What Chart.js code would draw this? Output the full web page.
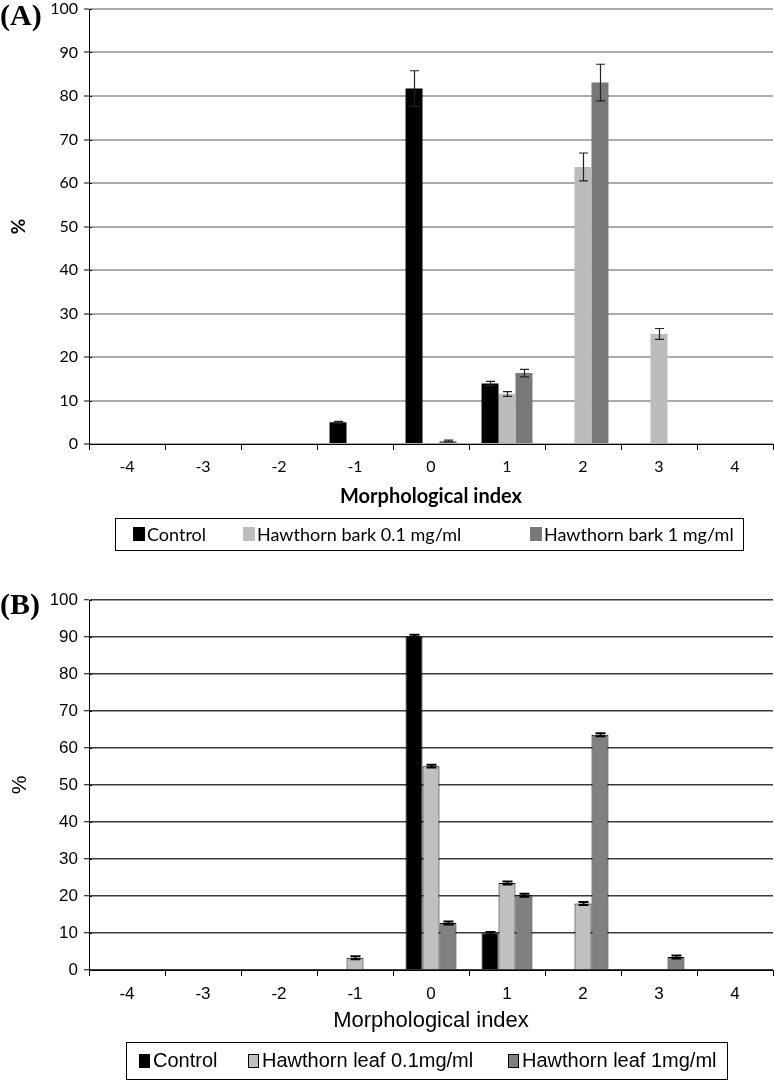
<!DOCTYPE html>
<html>
<head>
<meta charset="utf-8">
<script src="https://cdn.jsdelivr.net/npm/chart.js@4.4.0/dist/chart.umd.min.js"></script>
<style>
  body { margin: 0; background: #fff; width: 774px; height: 1080px; overflow: hidden; position: relative; }
  .panel { position: absolute; left: 0; width: 774px; }
  #wrapA { top: 0; height: 556px; }
  #wrapB { top: 556px; height: 524px; }
  .tag { position: absolute; left: 0; font: bold 30px "Liberation Serif", "Times New Roman", serif; color: #000; line-height: 30px; }
</style>
</head>
<body>
<div class="panel" id="wrapA"><canvas id="chartA" width="774" height="556"></canvas></div>
<div class="panel" id="wrapB"><canvas id="chartB" width="774" height="524"></canvas></div>
<div class="tag" style="top:0px">(A)</div>
<div class="tag" style="top:589px">(B)</div>
<script>
// morphological index categories (shared by both panels)
const morphIndex = ['-4', '-3', '-2', '-1', '0', '1', '2', '3', '4'];

// panel A - hawthorn bark
const barkLabels = ['Control', 'Hawthorn bark 0.1 mg/ml', 'Hawthorn bark 1 mg/ml'];
const barkControl    = [null, null, null, 5.0, 81.7, 13.9, null, null, null];
const barkControlErr = [0, 0, 0, 0.2, 4.1, 0.5, 0, 0, 0];
const bark01         = [null, null, null, null, null, 11.5, 63.7, 25.3, null];
const bark01Err      = [0, 0, 0, 0, 0, 0.55, 3.2, 1.25, 0];
const bark1          = [null, null, null, null, 0.7, 16.3, 83.1, null, null];
const bark1Err       = [0, 0, 0, 0, 0.2, 0.85, 4.2, 0, 0];

// panel B - hawthorn leaf
const leafLabels = ['Control', 'Hawthorn leaf 0.1mg/ml', 'Hawthorn leaf 1mg/ml'];
const leafControl    = [null, null, null, null, 90.2, 9.9, null, null, null];
const leafControlErr = [0, 0, 0, 0, 0.4, 0.4, 0, 0, 0];
const leaf01         = [null, null, null, 3.3, 55.1, 23.5, 18.0, null, null];
const leaf01Err      = [0, 0, 0, 0.4, 0.4, 0.4, 0.4, 0, 0];
const leaf1          = [null, null, null, null, 12.7, 20.2, 63.6, 3.5, null];
const leaf1Err       = [0, 0, 0, 0, 0.4, 0.4, 0.4, 0.4, 0];

const yTicks = [0, 10, 20, 30, 40, 50, 60, 70, 80, 90, 100];

// draws +/- error whiskers on top of each bar
const errorBars = {
  id: 'errorBars',
  afterDatasetsDraw(chart, args, opts) {
    const ctx = chart.ctx;
    const y = chart.scales.y;
    ctx.save();
    ctx.strokeStyle = opts.color;
    ctx.lineWidth = opts.width;
    chart.data.datasets.forEach((ds, di) => {
      const meta = chart.getDatasetMeta(di);
      meta.data.forEach((bar, i) => {
        const v = ds.data[i];
        const e = ds.errors[i];
        if (v == null || !e) return;
        const top = y.getPixelForValue(v + e);
        const bot = y.getPixelForValue(Math.max(v - e, 0));
        const x = Math.round(bar.x) + 0.5;
        const c = opts.cap / 2;
        ctx.beginPath();
        ctx.moveTo(x, top); ctx.lineTo(x, bot);
        ctx.moveTo(x - c, top); ctx.lineTo(x + c, top);
        ctx.moveTo(x - c, bot); ctx.lineTo(x + c, bot);
        ctx.stroke();
      });
    });
    ctx.restore();
  }
};

// y ticks cross the axis line a little on the right side too
const crossTicks = {
  id: 'crossTicks',
  afterDraw(chart) {
    const ctx = chart.ctx;
    const y = chart.scales.y;
    const x0 = chart.chartArea.left;
    ctx.save();
    ctx.strokeStyle = '#000';
    ctx.lineWidth = 1;
    ctx.beginPath();
    y.ticks.forEach(t => {
      const py = Math.round(y.getPixelForValue(t.value)) + 0.5;
      ctx.moveTo(x0, py); ctx.lineTo(x0 + 3, py);
    });
    ctx.stroke();
    ctx.restore();
  }
};

// legend inside a framed box, like the excel one
const boxedLegend = {
  id: 'boxedLegend',
  afterDraw(chart, args, o) {
    const ctx = chart.ctx;
    ctx.save();
    ctx.strokeStyle = '#000';
    ctx.lineWidth = 1;
    ctx.strokeRect(o.left + 0.5, o.top + 0.5, o.right - o.left, o.bottom - o.top);
    const cy = (o.top + o.bottom) / 2;
    ctx.font = o.font;
    ctx.textBaseline = 'middle';
    ctx.textAlign = 'left';
    chart.data.datasets.forEach((ds, i) => {
      const x = o.items[i];
      ctx.fillStyle = ds.backgroundColor;
      ctx.fillRect(x, Math.round(cy - o.boxH / 2), o.boxW, o.boxH);
      if (o.boxBorder) {
        ctx.strokeRect(x + 0.5, Math.round(cy - o.boxH / 2) + 0.5, o.boxW - 1, o.boxH - 1);
      }
      ctx.fillStyle = '#000';
      ctx.fillText(ds.label, x + o.boxW + o.textGap, cy + 1);
    });
    ctx.restore();
  }
};

function barSet(label, data, errors, color, border) {
  return {
    label: label,
    data: data,
    errors: errors,
    backgroundColor: color,
    borderColor: '#000',
    borderWidth: border,
    borderSkipped: 'bottom',
    categoryPercentage: 0.67,
    barPercentage: 1.0
  };
}

// Panel A
new Chart(document.getElementById('chartA'), {
  type: 'bar',
  data: {
    labels: morphIndex,
    datasets: [
      barSet(barkLabels[0], barkControl, barkControlErr, '#000000', 0),
      barSet(barkLabels[1], bark01, bark01Err, '#bcbcbc', 0),
      barSet(barkLabels[2], bark1, bark1Err, '#787878', 0)
    ]
  },
  options: {
    responsive: false,
    animation: false,
    layout: { padding: { top: 9, right: 1, bottom: 47, left: 0 } },
    scales: {
      x: {
        ticks: { color: '#000', font: { family: 'Lato', size: 16 }, padding: 7 },
        grid: { drawOnChartArea: false, color: '#000', tickLength: 6 },
        border: { color: '#000' },
        title: { display: true, text: 'Morphological index', color: '#000',
                 font: { family: 'Lato', size: 20, weight: 'bold' }, padding: 0 },
        afterFit(s) { s.height = 65; }
      },
      y: {
        min: 0, max: 100,
        afterBuildTicks(s) { s.ticks = yTicks.map(v => ({ value: v })); },
        ticks: { color: '#000', font: { family: 'Lato', size: 16 }, padding: 6 },
        grid: { color: '#ababab', lineWidth: 2, tickColor: '#000', tickWidth: 1, tickLength: 5 },
        border: { color: '#000' },
        title: { display: true, text: '%', color: '#000',
                 font: { family: 'Lato', size: 19, weight: 'bold' }, padding: { top: 7 } },
        afterFit(s) { s.width = 89; s.paddingTop = 0; }
      }
    },
    plugins: {
      legend: { display: false },
      tooltip: { enabled: false },
      errorBars: { color: '#222', width: 1.2, cap: 9 },
      boxedLegend: { left: 115, right: 743, top: 518, bottom: 550,
                     items: [133, 243, 530], boxW: 12, boxH: 14, textGap: 2,
                     font: '18px Lato', boxBorder: false }
    }
  },
  plugins: [errorBars, crossTicks, boxedLegend]
});

// Panel B
new Chart(document.getElementById('chartB'), {
  type: 'bar',
  data: {
    labels: morphIndex,
    datasets: [
      barSet(leafLabels[0], leafControl, leafControlErr, '#000000', 1),
      barSet(leafLabels[1], leaf01, leaf01Err, '#c0c0c0', 1),
      barSet(leafLabels[2], leaf1, leaf1Err, '#808080', 1)
    ]
  },
  options: {
    responsive: false,
    animation: false,
    layout: { padding: { top: 44, right: 1, bottom: 46, left: 0 } },
    scales: {
      x: {
        ticks: { color: '#000', font: { family: 'Liberation Sans', size: 17 }, padding: 8 },
        grid: { drawOnChartArea: false, color: '#000', tickLength: 6 },
        border: { color: '#000' },
        title: { display: true, text: 'Morphological index', color: '#000',
                 font: { family: 'Liberation Sans', size: 22 }, padding: 0 },
        afterFit(s) { s.height = 64; }
      },
      y: {
        min: 0, max: 100,
        afterBuildTicks(s) { s.ticks = yTicks.map(v => ({ value: v })); },
        ticks: { color: '#000', font: { family: 'Liberation Sans', size: 17 }, padding: 6 },
        grid: { color: '#3a3a3a', lineWidth: 1.5, tickColor: '#000', tickWidth: 1, tickLength: 5 },
        border: { color: '#000' },
        title: { display: true, text: '%', color: '#000',
                 font: { family: 'Liberation Sans', size: 21 }, padding: { top: 8 } },
        afterFit(s) { s.width = 89; }
      }
    },
    plugins: {
      legend: { display: false },
      tooltip: { enabled: false },
      errorBars: { color: '#000', width: 2, cap: 10 },
      boxedLegend: { left: 126, right: 727, top: 486, bottom: 523,
                     items: [139, 248, 508], boxW: 11, boxH: 14, textGap: 3,
                     font: '20px "Liberation Sans"', boxBorder: true }
    }
  },
  plugins: [errorBars, crossTicks, boxedLegend]
});
</script>
</body>
</html>
